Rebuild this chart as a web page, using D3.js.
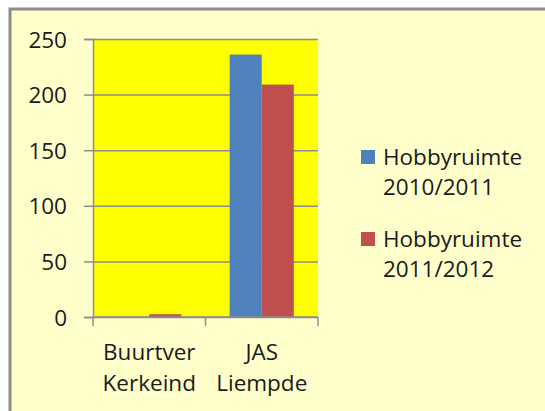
<!DOCTYPE html>
<html>
<head>
<meta charset="utf-8">
<script src="https://cdn.jsdelivr.net/npm/d3@7"></script>
<style>
  body { margin: 0; background: #fff; }
  svg { display: block; font-family: "Open Sans", sans-serif; }
</style>
</head>
<body>
<svg width="545" height="411"></svg>
<script>
var categories = [["Buurtver", "Kerkeind"], ["JAS", "Liempde"]];
var seriesNames = [["Hobbyruimte", "2010/2011"], ["Hobbyruimte", "2011/2012"]];
var series1 = [0, 236];
var series2 = [2.5, 209];
var yTicks = [0, 50, 100, 150, 200, 250];
var colors = ["#4f81bd", "#c0504d"];

var svg = d3.select("svg");

// chart background + border
svg.append("rect")
    .attr("x", 10).attr("y", 9)
    .attr("width", 560).attr("height", 430)
    .attr("fill", "#ffffcc")
    .attr("stroke", "#8c8c8c")
    .attr("stroke-width", 3);

var plot = {left: 93, top: 39, right: 318, bottom: 317};

var x0 = d3.scaleBand()
    .domain(d3.range(categories.length))
    .range([plot.left, plot.right]);
var pad = x0.bandwidth() * 0.215;
var x1 = d3.scaleBand()
    .domain([0, 1])
    .range([pad, x0.bandwidth() - pad]);
var y = d3.scaleLinear()
    .domain([0, 250])
    .range([plot.bottom, plot.top]);

svg.append("rect")
    .attr("x", plot.left).attr("y", plot.top)
    .attr("width", plot.right - plot.left)
    .attr("height", plot.bottom - plot.top)
    .attr("fill", "#ffff00");

// gridlines
svg.append("g")
    .attr("transform", "translate(" + plot.left + ",0)")
    .call(d3.axisLeft(y).tickValues(yTicks).tickSize(-(plot.right - plot.left)).tickFormat(""))
    .call(function(g) {
      g.select(".domain").remove();
      g.selectAll("line").attr("stroke", "#8c8c8c").attr("stroke-width", 1.5);
    });

// bars
var rows = categories.map(function(c, i) { return [series1[i], series2[i]]; });
svg.append("g")
  .selectAll("g")
  .data(rows)
  .enter().append("g")
    .attr("transform", function(d, i) { return "translate(" + x0(i) + ",0)"; })
  .selectAll("rect")
  .data(function(d) { return d; })
  .enter().append("rect")
    .attr("x", function(d, j) { return x1(j); })
    .attr("y", function(d) { return y(d); })
    .attr("width", x1.bandwidth())
    .attr("height", function(d) { return plot.bottom - y(d); })
    .attr("fill", function(d, j) { return colors[j]; });

// y axis
var yAxis = svg.append("g")
    .attr("transform", "translate(" + plot.left + ",0)")
    .call(d3.axisLeft(y).tickValues(yTicks).tickSize(9).tickPadding(17))
    .attr("font-family", null)
    .attr("font-size", null);
yAxis.selectAll("line, .domain").attr("stroke", "#8c8c8c").attr("stroke-width", 1.5);
yAxis.selectAll("text")
    .attr("fill", "#1a1a1a")
    .style("font-size", "22.5px")
    .attr("dy", "0.36em");

// x axis
var xAxis = svg.append("g")
    .attr("transform", "translate(0," + plot.bottom + ")");
xAxis.append("line")
    .attr("x1", plot.left).attr("x2", plot.right)
    .attr("stroke", "#8c8c8c").attr("stroke-width", 1.5);
xAxis.selectAll(".tk")
  .data(d3.range(categories.length + 1))
  .enter().append("line")
    .attr("class", "tk")
    .attr("x1", function(i) { return i < categories.length ? x0(i) : plot.right; })
    .attr("x2", function(i) { return i < categories.length ? x0(i) : plot.right; })
    .attr("y1", 0).attr("y2", 9)
    .attr("stroke", "#8c8c8c").attr("stroke-width", 1.5);
xAxis.selectAll(".lbl")
  .data(categories)
  .enter().append("text")
    .attr("class", "lbl")
    .attr("text-anchor", "middle")
    .attr("fill", "#1a1a1a")
    .style("font-size", "22.5px")
    .attr("transform", function(d, i) { return "translate(" + (x0(i) + x0.bandwidth() / 2) + ",43)"; })
  .selectAll("tspan")
  .data(function(d) { return d; })
  .enter().append("tspan")
    .attr("x", 0)
    .attr("y", function(d, k) { return k * 31; })
    .text(function(d) { return d; });

// legend
var legend = svg.append("g")
  .selectAll("g")
  .data(seriesNames)
  .enter().append("g")
    .attr("transform", function(d, i) { return "translate(361," + (150 + i * 82) + ")"; });
legend.append("rect")
    .attr("width", 14).attr("height", 14)
    .attr("fill", function(d, i) { return colors[i]; });
legend.append("text")
    .attr("fill", "#1a1a1a")
    .style("font-size", "22.5px")
  .selectAll("tspan")
  .data(function(d) { return d; })
  .enter().append("tspan")
    .attr("x", 22)
    .attr("y", function(d, k) { return 15 + k * 30; })
    .text(function(d) { return d; });
</script>
</body>
</html>
